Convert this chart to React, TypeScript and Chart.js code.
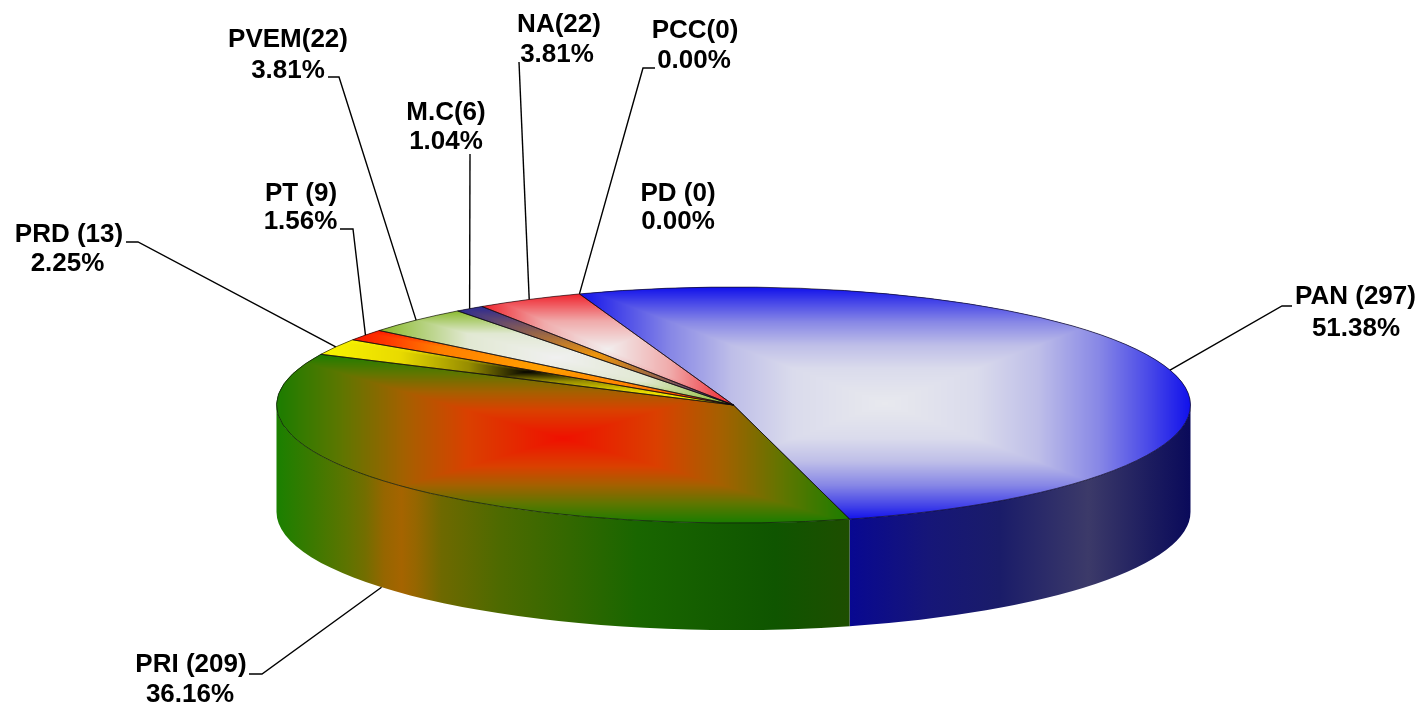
import React, { useEffect, useRef } from "react";
import { Chart, registerables } from "chart.js";

Chart.register(...registerables);

// ---- data ----
const parties = ["PAN (297)", "PRI (209)", "PRD (13)", "PT (9)", "PVEM(22)", "M.C(6)", "NA(22)", "PCC(0)", "PD (0)"];
const seats = [297, 209, 13, 9, 22, 6, 22, 0, 0];
const shares = ["51.38%", "36.16%", "2.25%", "1.56%", "3.81%", "1.04%", "3.81%", "0.00%", "0.00%"];

// ---- layout & style ----
const W = 1421;
const H = 706;
const CX = 733.5;
const CY = 405;
const RX = 457;
const RY = 118;
const DEPTH = 107;
const ROTATION = -19.7;
type RGB = [number, number, number];
type Stop = [number, RGB];

const TOP_STOPS: Stop[][] = [
  [[0, [232, 233, 238]], [0.3, [218, 219, 236]], [0.5, [190, 190, 232]], [0.7, [135, 135, 230]], [0.87, [70, 70, 232]], [1, [16, 16, 235]]],
  [[0, [240, 16, 0]], [0.33, [218, 64, 0]], [0.55, [165, 96, 0]], [0.77, [95, 118, 0]], [1, [26, 125, 0]]],
  [[0, [5, 5, 0]], [0.28, [150, 140, 0]], [0.61, [232, 218, 0]], [1, [250, 245, 0]]],
  [[0, [255, 160, 0]], [0.55, [255, 125, 0]], [0.8, [255, 60, 0]], [1, [250, 20, 0]]],
  [[0, [240, 240, 240]], [0.5, [225, 232, 210]], [1, [135, 185, 40]]],
  [[0, [240, 150, 10]], [1, [40, 40, 150]]],
  [[0, [242, 238, 238]], [0.5, [240, 170, 170]], [1, [240, 30, 40]]],
];
const WALL_STOPS: Record<number, Stop[]> = {
  0: [[0, [8, 8, 145]], [0.23, [22, 22, 120]], [0.44, [26, 28, 105]], [0.7, [60, 58, 105]], [0.88, [28, 28, 95]], [1, [10, 10, 90]]],
  1: [[0, [26, 128, 0]], [0.054, [55, 122, 0]], [0.122, [93, 116, 0]], [0.155, [115, 110, 0]], [0.188, [150, 102, 0]], [0.218, [165, 100, 0]], [0.243, [150, 102, 0]], [0.288, [110, 105, 0]], [0.39, [77, 106, 0]], [0.63, [25, 102, 0]], [0.87, [15, 85, 0]], [1, [30, 78, 0]]],
};
const BASE_COLORS = ["#1010eb", "#1a7d00", "#f5f000", "#fa1400", "#87b928", "#282896", "#f01e28", "#ff8000", "#808080"];

// label centres: [x, line 1 y, x, line 2 y]
const LABEL_POS: number[][] = [
  [1355.5, 297, 1356, 329],
  [191, 665, 190, 695],
  [69, 235, 67.5, 264],
  [301, 194, 300.5, 222],
  [288, 40, 288, 71],
  [446, 113, 446, 142],
  [559, 25, 557, 55],
  [695, 31, 694, 61],
  [678, 194, 678, 222],
];
// leader starts: polyline from label to an elbow, then on to the slice's outer edge
const LEADER_START: (number[] | null)[] = [
  [1292, 306, 1282, 306],
  [249, 674, 262, 674],
  [126, 242, 138, 242],
  [340, 229, 353, 229],
  [328, 77, 339, 77],
  [470, 154, 470, 154],
  [519, 62, 519, 62],
  [655, 68, 643, 68],
  null,
];

function lerpStops(stops: Stop[], t: number): RGB {
  for (let i = 1; i < stops.length; i++) {
    if (t <= stops[i][0]) {
      const [t0, c0] = stops[i - 1];
      const [t1, c1] = stops[i];
      const k = (t - t0) / (t1 - t0 || 1);
      return [c0[0] + (c1[0] - c0[0]) * k, c0[1] + (c1[1] - c0[1]) * k, c0[2] + (c1[2] - c0[2]) * k];
    }
  }
  return stops[stops.length - 1][1];
}

function slicePath(ctx: CanvasRenderingContext2D, a0: number, a1: number) {
  ctx.beginPath();
  ctx.moveTo(CX, CY);
  ctx.ellipse(CX, CY, RX, RY, 0, a0, a1);
  ctx.closePath();
}

function sliceBox(a0: number, a1: number) {
  let x0 = CX, x1 = CX, y0 = CY, y1 = CY;
  const n = 200;
  for (let i = 0; i <= n; i++) {
    const a = a0 + ((a1 - a0) * i) / n;
    const x = CX + RX * Math.cos(a);
    const y = CY + RY * Math.sin(a);
    x0 = Math.min(x0, x); x1 = Math.max(x1, x);
    y0 = Math.min(y0, y); y1 = Math.max(y1, y);
  }
  return { x0: Math.floor(x0), x1: Math.ceil(x1), y0: Math.floor(y0), y1: Math.ceil(y1) };
}

function pyramid(a0: number, a1: number, stops: Stop[]) {
  const { x0, x1, y0, y1 } = sliceBox(a0, a1);
  const w = x1 - x0, h = y1 - y0;
  const off = document.createElement("canvas");
  off.width = w; off.height = h;
  const c = off.getContext("2d")!;
  const img = c.createImageData(w, h);
  for (let y = 0; y < h; y++) {
    for (let x = 0; x < w; x++) {
      const t = Math.min(1, Math.max(Math.abs((x + 0.5) / w - 0.5), Math.abs((y + 0.5) / h - 0.5)) * 2);
      const col = lerpStops(stops, t);
      const o = (y * w + x) * 4;
      img.data[o] = col[0]; img.data[o + 1] = col[1]; img.data[o + 2] = col[2]; img.data[o + 3] = 255;
    }
  }
  c.putImageData(img, 0, 0);
  return { off, x0, y0 };
}

const pie3d = {
  id: "pie3d",
  beforeDatasetsDraw(chart: any) {
    const ctx: CanvasRenderingContext2D = chart.ctx;
    const arcs = chart.getDatasetMeta(0).data;
    arcs.forEach((arc: any, i: number) => {
      const stops = WALL_STOPS[i];
      if (!stops || arc.circumference === 0) return;
      // visible front part of the slice: angles in [0, PI]
      const a0 = Math.max(arc.startAngle, 0);
      const a1 = Math.min(arc.endAngle, Math.PI);
      if (a1 <= a0) return;
      const xa = CX + RX * Math.cos(a1);
      const xb = CX + RX * Math.cos(a0);
      const g = ctx.createLinearGradient(xa, 0, xb, 0);
      stops.forEach(([t, c]) => g.addColorStop(t, `rgb(${c[0]},${c[1]},${c[2]})`));
      ctx.save();
      ctx.beginPath();
      ctx.ellipse(CX, CY, RX, RY, 0, a0, a1);
      ctx.ellipse(CX, CY + DEPTH, RX, RY, 0, a1, a0, true);
      ctx.closePath();
      ctx.fillStyle = g;
      ctx.fill();
      ctx.restore();
    });
  },
  beforeDatasetDraw(chart: any) {
    const ctx: CanvasRenderingContext2D = chart.ctx;
    const arc = chart.getDatasetMeta(0).data[0];
    ctx.save();
    ctx.translate(CX, CY);
    ctx.scale(RX / arc.outerRadius, RY / arc.outerRadius);
    ctx.translate(-arc.x, -arc.y);
  },
  afterDatasetDraw(chart: any) {
    chart.ctx.restore();
  },
  afterDatasetsDraw(chart: any) {
    const ctx: CanvasRenderingContext2D = chart.ctx;
    const arcs = chart.getDatasetMeta(0).data;
    // shaded tops
    arcs.forEach((arc: any, i: number) => {
      if (arc.circumference === 0 || !TOP_STOPS[i]) return;
      const { off, x0, y0 } = pyramid(arc.startAngle, arc.endAngle, TOP_STOPS[i]);
      ctx.save();
      slicePath(ctx, arc.startAngle, arc.endAngle);
      ctx.clip();
      ctx.drawImage(off, x0, y0);
      ctx.restore();
    });
    // outlines
    ctx.save();
    ctx.lineWidth = 1;
    ctx.strokeStyle = "rgba(15,10,15,0.65)";
    ctx.lineJoin = "round";
    arcs.forEach((arc: any) => {
      if (arc.circumference === 0) return;
      slicePath(ctx, arc.startAngle, arc.endAngle);
      ctx.stroke();
    });
    ctx.restore();
    // leaders
    ctx.save();
    ctx.strokeStyle = "#000";
    ctx.lineWidth = 1.4;
    arcs.forEach((arc: any, i: number) => {
      const s = LEADER_START[i];
      if (!s) return;
      const mid = (arc.startAngle + arc.endAngle) / 2;
      const sn = Math.sin(mid);
      const ex = CX + RX * Math.cos(mid);
      const ey = CY + RY * sn + (sn > 0 ? DEPTH : 0);
      ctx.beginPath();
      ctx.moveTo(s[0], s[1]);
      ctx.lineTo(s[2], s[3]);
      ctx.lineTo(ex, ey);
      ctx.stroke();
    });
    ctx.restore();
    // labels
    ctx.save();
    ctx.fillStyle = "#000";
    ctx.font = 'bold 26px "Liberation Sans", Arial, sans-serif';
    ctx.textAlign = "center";
    ctx.textBaseline = "middle";
    parties.forEach((name, i) => {
      const p = LABEL_POS[i];
      ctx.fillText(name, p[0], p[1]);
      ctx.fillText(shares[i], p[2], p[3]);
    });
    ctx.restore();
  },
};

export default function App() {
  const ref = useRef<HTMLCanvasElement>(null);
  useEffect(() => {
    const chart = new Chart(ref.current!, {
      type: "pie",
      data: {
        labels: parties,
        datasets: [{ data: seats, backgroundColor: BASE_COLORS, borderWidth: 0 }],
      },
      options: {
        responsive: false,
        animation: false,
        rotation: ROTATION,
        events: [],
        layout: { padding: 0 },
        plugins: { legend: { display: false }, tooltip: { enabled: false } },
      },
      plugins: [pie3d],
    } as any);
    return () => chart.destroy();
  }, []);
  return (
    <div style={{ position: "absolute", left: 0, top: 0, width: W, height: H, background: "#fff", overflow: "hidden" }}>
      <canvas ref={ref} width={W} height={H} style={{ display: "block" }} />
    </div>
  );
}
